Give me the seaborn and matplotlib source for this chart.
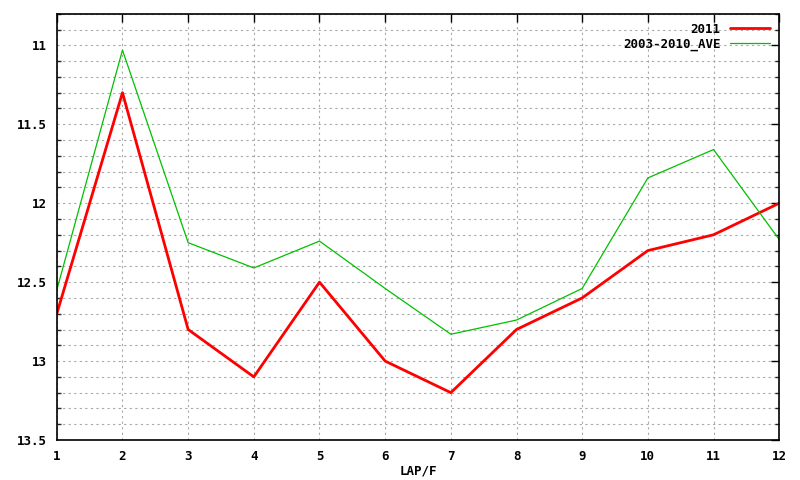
import numpy as np
import pandas as pd
import matplotlib
matplotlib.use('Agg')
import matplotlib.pyplot as plt
from matplotlib.ticker import MultipleLocator
import seaborn as sns

# lap numbers and positions
laps = [1, 2, 3, 4, 5, 6, 7, 8, 9, 10, 11, 12]
pos_2011 = [12.7, 11.3, 12.8, 13.1, 12.5, 13.0, 13.2, 12.8, 12.6, 12.3, 12.2, 12.0]
pos_ave = [12.55, 11.03, 12.25, 12.41, 12.24, 12.54, 12.83, 12.74, 12.54, 11.84, 11.66, 12.23]
series_names = ['2011', '2003-2010_AVE']
series_colors = ['#ff0000', '#00c000']

df = pd.DataFrame({
    'lap': laps * 2,
    'pos': pos_2011 + pos_ave,
    'series': [series_names[0]] * len(laps) + [series_names[1]] * len(laps),
})

sns.set_style('white')
plt.rcParams['font.family'] = ['DejaVu Sans Mono']
plt.rcParams['font.weight'] = 'bold'
plt.rcParams['text.color'] = 'black'
plt.rcParams['axes.labelcolor'] = 'black'

fig = plt.figure(figsize=(8, 4.8), dpi=100)
ax = fig.add_axes([0.071, 0.0833, 0.903, 0.888])

sns.lineplot(data=df, x='lap', y='pos', hue='series', hue_order=series_names,
             palette=dict(zip(series_names, series_colors)), ax=ax, legend=True)
for line, lw in zip(ax.get_lines(), [2.0, 0.9]):
    line.set_linewidth(lw)

ax.set_xlim(1, 12)
ax.set_ylim(13.5, 10.8)
ax.xaxis.set_major_locator(MultipleLocator(1))
ax.yaxis.set_minor_locator(MultipleLocator(0.1))
ax.set_yticks([11, 11.5, 12, 12.5, 13, 13.5])
ax.set_yticklabels(['11', '11.5', '12', '12.5', '13', '13.5'])

# gnuplot-like dotted grid
ax.grid(True, which='both', axis='y', color='#a8a8a8', linestyle=(0, (2, 3)), linewidth=0.8)
ax.grid(True, which='major', axis='x', color='#a8a8a8', linestyle=(0, (2, 3)), linewidth=0.8)
ax.tick_params(which='major', direction='in', length=6, width=1, top=True, right=True,
               labelsize=9, pad=7, colors='black')
ax.tick_params(which='minor', direction='in', length=3, width=1, left=True, right=True)
for s in ax.spines.values():
    s.set_color('black')
    s.set_linewidth(1.2)

ax.set_xlabel('LAP/F', fontsize=9, fontweight='bold', labelpad=1)
ax.set_ylabel('')

leg = ax.legend(loc='upper right', frameon=False, markerfirst=False, fontsize=9,
                handlelength=3.2, borderaxespad=0.3, labelspacing=0.15, handletextpad=0.8)
for h, lw in zip(leg.get_lines(), [2.0, 0.9]):
    h.set_linewidth(lw)

fig.savefig('out.png', dpi=100)
